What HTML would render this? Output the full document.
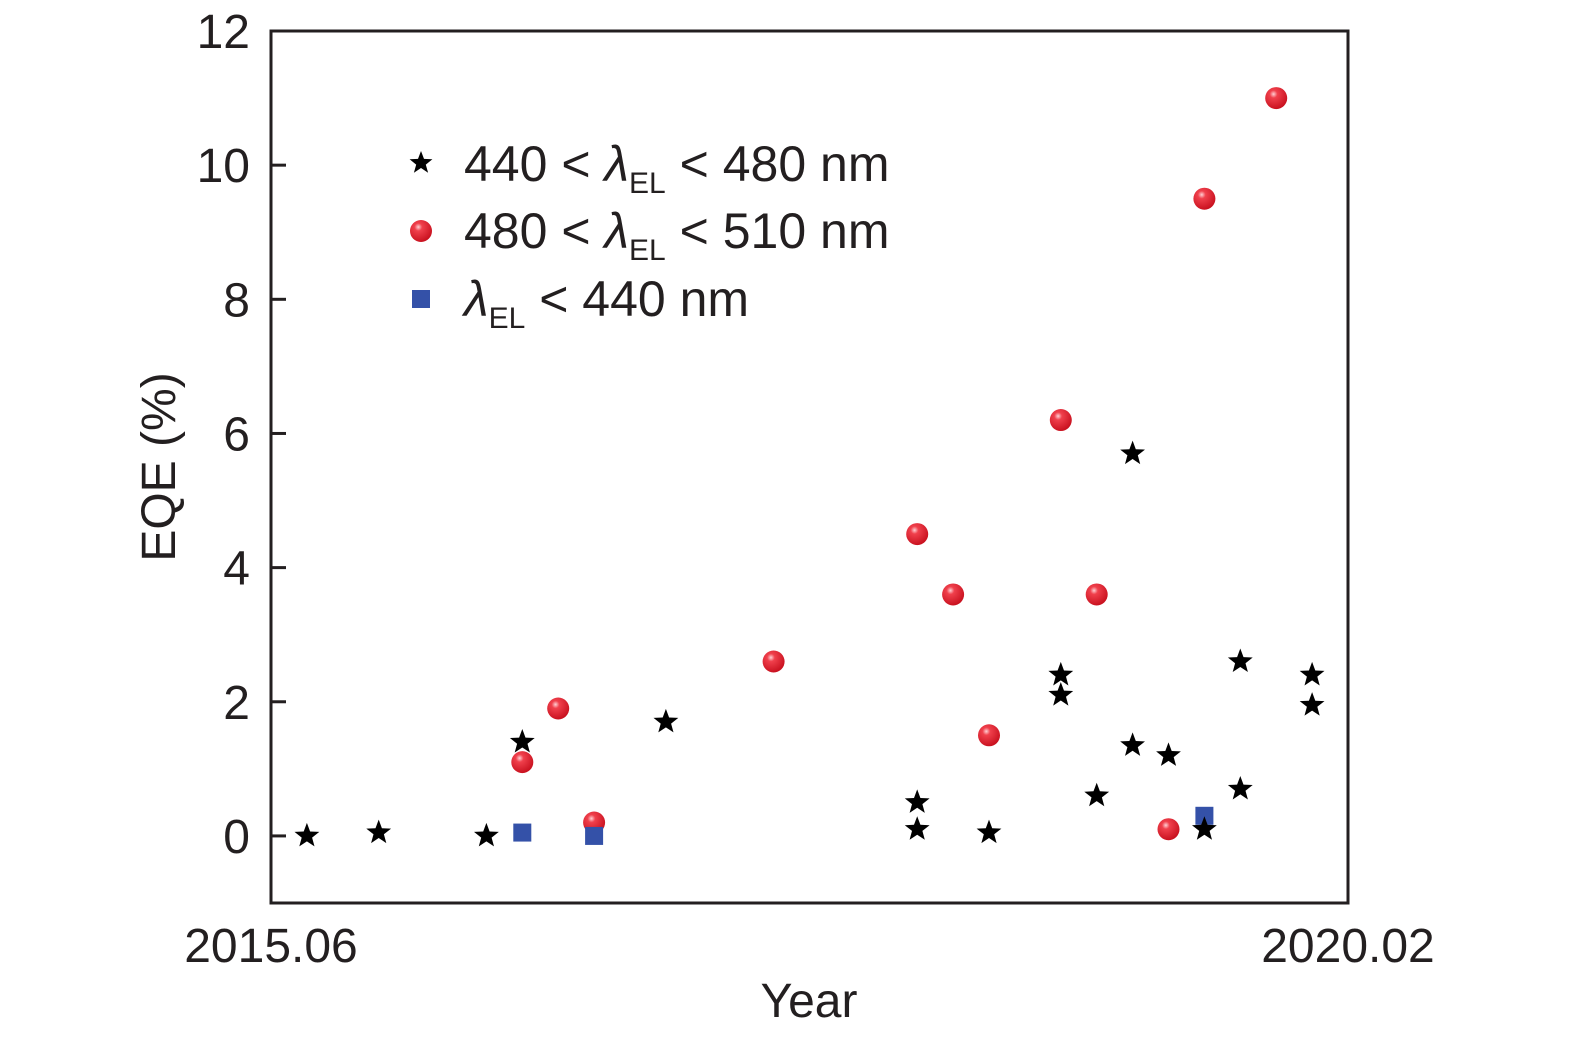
<!DOCTYPE html>
<html><head><meta charset="utf-8"><style>
body{margin:0;background:#fff;}
svg text{font-family:"Liberation Sans",sans-serif;fill:#231f20;}
</style></head><body>
<svg id="chart" width="1575" height="1043" viewBox="0 0 1575 1043">
<defs>
<radialGradient id="rg" cx="0.38" cy="0.32" r="0.7">
<stop offset="0" stop-color="#ffd0d4"/><stop offset="0.25" stop-color="#f0404c"/><stop offset="1" stop-color="#c8101e"/>
</radialGradient>
</defs>
<g id="axes"></g>
<g id="marks"></g>
<g id="legend"></g>
</svg>
<script>
const starX=[1,3,6,7,11,18,18,20,22,22,23,24,24,25,26,27,27,29,29];
const starY=[0,0.05,0,1.4,1.7,0.5,0.1,0.05,2.4,2.1,0.6,5.7,1.35,1.2,0.1,2.6,0.7,2.4,1.95];
const redX=[7,8,9,14,18,19,20,22,23,25,26,28];
const redY=[1.1,1.9,0.2,2.6,4.5,3.6,1.5,6.2,3.6,0.1,9.5,11];
const blueX=[7,9,26];
const blueY=[0.05,0,0.3];
const yTicks=[0,2,4,6,8,10,12];
const xTickLabels=["2015.06","2020.02"];

const L=271,R=1348,T=31,B=903,xMin=0,xMax=30,yMin=-1,yMax=12;
const sx=v=>L+(v-xMin)/(xMax-xMin)*(R-L);
const sy=v=>B-(v-yMin)/(yMax-yMin)*(B-T);
const NS="http://www.w3.org/2000/svg";
function mk(tag,attrs,parent,txt){const e=document.createElementNS(NS,tag);for(const k in attrs)e.setAttribute(k,attrs[k]);if(txt!==undefined)e.textContent=txt;parent.appendChild(e);return e;}
const axes=document.getElementById('axes'),marks=document.getElementById('marks'),leg=document.getElementById('legend');
let f=mk('rect',{x:L,y:T,width:R-L,height:B-T,fill:'none',stroke:'#231f20','stroke-width':3},axes);


yTicks.forEach(v=>{
 let t=mk('line',{x1:L,x2:L+15,y1:sy(v),y2:sy(v),stroke:'#231f20','stroke-width':3},axes);
 
 
 let lb=mk('text',{x:250,y:sy(v)+17,'text-anchor':'end','font-size':48},axes,String(v));
 
 
});
[L,R].forEach((x,i)=>{
 let lb=mk('text',{x:x,y:962,'text-anchor':'middle','font-size':48},axes,xTickLabels[i]);
 
 
});
let xt=mk('text',{x:809,y:1017,'text-anchor':'middle','font-size':48},axes,'Year');


let yt=mk('text',{x:0,y:0,'text-anchor':'middle','font-size':48,transform:'translate(175,467) rotate(-90)'},axes,'EQE (%)');



function starPath(cx,cy,r){let p='';for(let i=0;i<10;i++){const rr=i%2?r*0.42:r;const a=-Math.PI/2+i*Math.PI/5;p+=(i?'L':'M')+(cx+rr*Math.cos(a)).toFixed(1)+','+(cy+rr*Math.sin(a)).toFixed(1);}return p+'Z';}
function star(cx,cy,r,par){let s=mk('path',{d:starPath(cx,cy,r),fill:'#000'},par);return s;}
function dot(cx,cy,par){return mk('circle',{cx:cx,cy:cy,r:11,fill:'url(#rg)'},par);}
function sq(cx,cy,par){return mk('rect',{x:cx-9,y:cy-9,width:18,height:18,fill:'#3451a8'},par);}

redX.forEach((x,i)=>{let e=dot(sx(x),sy(redY[i]),marks);
 
 });
blueX.forEach((x,i)=>{let e=sq(sx(x),sy(blueY[i]),marks);
 
 });
starX.forEach((x,i)=>{let e=star(sx(x),sy(starY[i]),13,marks);
 
 });

let ls=star(421,163,12,leg);


let ld=dot(421,231,leg);


let lq=sq(421,299,leg);


const legTexts=[['440 < ','λ','EL',' < 480 nm',181],['480 < ','λ','EL',' < 510 nm',248],['','λ','EL',' < 440 nm',316]];
legTexts.forEach(t=>{
 let tx=mk('text',{x:464,y:t[4],'font-size':50},leg);
 
 
 mk('tspan',{},tx,t[0]);
 mk('tspan',{'font-style':'italic'},tx,t[1]);
 mk('tspan',{'font-size':30,dy:12},tx,t[2]);
 mk('tspan',{dy:-12},tx,t[3]);
});
</script>
</body></html>
